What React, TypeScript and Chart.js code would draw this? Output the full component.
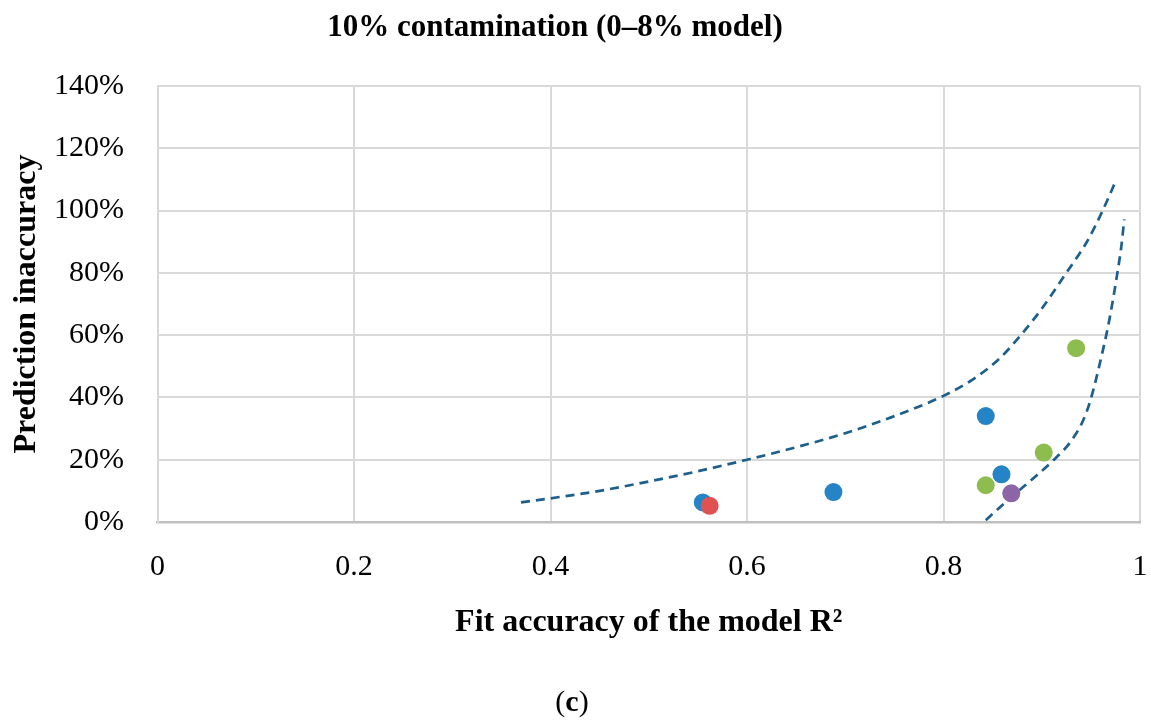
import React, { useEffect, useRef } from "react";
import { Chart, registerables } from "chart.js";

Chart.register(...registerables);

const TITLE = "10% contamination (0–8% model)";
const X_TITLE = "Fit accuracy of the model R²";
const Y_TITLE = "Prediction inaccuracy";
const PANEL = ["(", "c", ")"];

const xTickLabels = ["0", "0.2", "0.4", "0.6", "0.8", "1"];
const yTickLabels = ["0%", "20%", "40%", "60%", "80%", "100%", "120%", "140%"];

// scatter points: R² (x) and prediction inaccuracy in % (y)
const blueX = [0.555, 0.688, 0.843, 0.859];
const blueY = [6.3, 9.6, 34.0, 15.3];
const redX = [0.562];
const redY = [5.2];
const greenX = [0.843, 0.902, 0.935];
const greenY = [11.8, 22.3, 55.8];
const purpleX = [0.869];
const purpleY = [9.2];

// dashed envelope curves
const upperX = [0.37, 0.4, 0.45, 0.5, 0.55, 0.6, 0.65, 0.7, 0.75, 0.8, 0.83, 0.857, 0.88, 0.9, 0.925, 0.946, 0.962, 0.976];
const upperY = [6.3, 7.6, 10.0, 13.0, 16.3, 20.0, 24.0, 28.5, 34.0, 40.5, 45.8, 52.5, 60.5, 68.5, 80.0, 90.0, 100.0, 110.0];
const lowerX = [0.843, 0.869, 0.895, 0.915, 0.929, 0.942, 0.949, 0.955, 0.961, 0.967, 0.972, 0.977, 0.981, 0.984];
const lowerY = [0.6, 8.0, 15.0, 20.8, 25.6, 32.5, 38.5, 45.5, 53.5, 62.0, 70.5, 80.0, 88.5, 97.2];

const zip = (xs: number[], ys: number[]) => xs.map((x, i) => ({ x, y: ys[i] }));

const SERIF = '"Liberation Serif", "Times New Roman", serif';

const textPlugin = {
  id: "freeTexts",
  afterDraw(chart: any) {
    const ctx = chart.ctx as CanvasRenderingContext2D;
    ctx.save();
    ctx.fillStyle = "#000";
    ctx.textBaseline = "alphabetic";
    ctx.textAlign = "center";
    ctx.font = `bold 31px ${SERIF}`;
    ctx.fillText(TITLE, 555, 36);

    ctx.textAlign = "left";
    const fonts = [`30px ${SERIF}`, `bold 30px ${SERIF}`, `30px ${SERIF}`];
    let total = 0;
    const widths = PANEL.map((p, i) => {
      ctx.font = fonts[i];
      const w = ctx.measureText(p).width;
      total += w;
      return w;
    });
    let x = 572 - total / 2;
    PANEL.forEach((p, i) => {
      ctx.font = fonts[i];
      ctx.fillText(p, x, 711);
      x += widths[i];
    });
    ctx.restore();
  },
};

export default function App() {
  const ref = useRef<HTMLCanvasElement | null>(null);

  useEffect(() => {
    if (!ref.current) return;
    const pointDs = (label: string, xs: number[], ys: number[], color: string, order: number) => ({
      label,
      data: zip(xs, ys),
      backgroundColor: color,
      borderColor: color,
      borderWidth: 0,
      pointRadius: 9,
      pointHoverRadius: 9,
      showLine: false,
      order,
    });
    const lineDs = (label: string, xs: number[], ys: number[], order: number) => ({
      label,
      data: zip(xs, ys),
      showLine: true,
      borderColor: "#1d5f8d",
      borderWidth: 2.7,
      borderDash: [9, 6],
      pointRadius: 0,
      pointHoverRadius: 0,
      cubicInterpolationMode: "monotone",
      fill: false,
      order,
    });

    const chart = new Chart(ref.current, {
      type: "scatter",
      data: {
        datasets: [
          pointDs("red", redX, redY, "#de5252", 0),
          pointDs("purple", purpleX, purpleY, "#8c65a7", 1),
          pointDs("green", greenX, greenY, "#8dbd4f", 2),
          pointDs("blue", blueX, blueY, "#2584c6", 3),
          lineDs("upper", upperX, upperY, 5),
          lineDs("lower", lowerX, lowerY, 6),
        ] as any,
      },
      options: {
        responsive: false,
        animation: false,
        devicePixelRatio: 1,
        layout: { padding: { top: 86, right: 11, bottom: 0, left: 0 } },
        plugins: {
          legend: { display: false },
          tooltip: { enabled: false },
          title: { display: false },
        },
        scales: {
          x: {
            type: "linear",
            min: 0,
            max: 1,
            afterFit: (s: any) => {
              s.height = 202;
              s.paddingLeft = 0;
              s.paddingRight = 0;
            },
            ticks: {
              stepSize: 0.2,
              padding: 27.5,
              color: "#000",
              font: { family: SERIF, size: 30 },
              callback: (v: any) => xTickLabels[Math.round(Number(v) * 5)] ?? "",
              maxRotation: 0,
            },
            grid: { color: "#d9d9d9", lineWidth: 2, drawTicks: false },
            border: { display: true, color: "#bfbfbf", width: 2.5 },
            title: {
              display: true,
              text: X_TITLE,
              color: "#000",
              font: { family: SERIF, size: 32, weight: "bold" },
              padding: { top: 0, bottom: 82 },
            },
          },
          y: {
            type: "linear",
            min: 0,
            max: 140,
            afterFit: (s: any) => {
              s.width = 157.5;
              s.paddingTop = 0;
              s.paddingBottom = 0;
            },
            ticks: {
              stepSize: 20,
              padding: 33.5,
              color: "#000",
              font: { family: SERIF, size: 30 },
              callback: (v: any) => yTickLabels[Math.round(Number(v) / 20)] ?? "",
            },
            grid: { color: "#d9d9d9", lineWidth: 2, drawTicks: false },
            border: { display: true, color: "#d9d9d9", width: 2 },
            title: {
              display: true,
              text: Y_TITLE,
              color: "#000",
              font: { family: SERIF, size: 32, weight: "bold" },
              padding: { top: 7.8, bottom: 0 },
            },
          },
        },
      } as any,
      plugins: [textPlugin],
    });
    return () => chart.destroy();
  }, []);

  return (
    <div style={{ position: "absolute", left: 0, top: 0, width: 1151, height: 724, background: "#fff" }}>
      <canvas ref={ref} width={1151} height={724} style={{ display: "block" }} />
    </div>
  );
}
